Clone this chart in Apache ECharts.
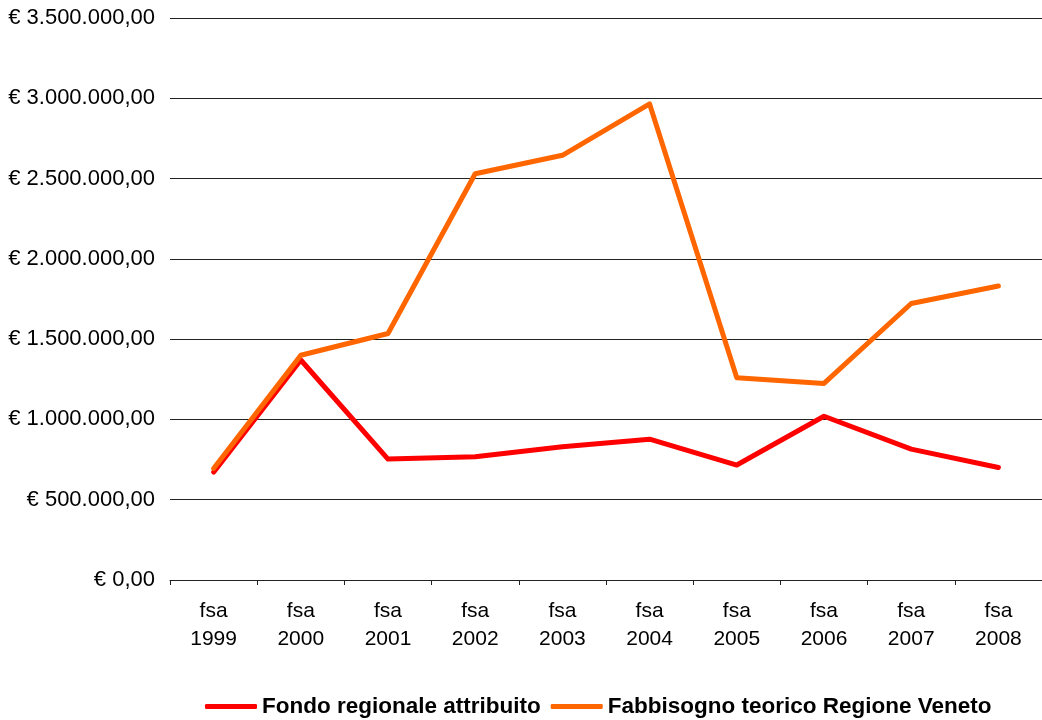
<!DOCTYPE html>
<html>
<head>
<meta charset="utf-8">
<script src="https://cdn.jsdelivr.net/npm/echarts@6/dist/echarts.min.js"></script>
<style>
  html, body { margin: 0; padding: 0; background: #fff; }
  #chart { width: 1042px; height: 720px; }
</style>
</head>
<body>
<div id="chart"></div>
<script>
const categories = ['fsa\n1999', 'fsa\n2000', 'fsa\n2001', 'fsa\n2002', 'fsa\n2003', 'fsa\n2004', 'fsa\n2005', 'fsa\n2006', 'fsa\n2007', 'fsa\n2008']
const fondoRegionale = [672000, 1370000, 753000, 767000, 830000, 877000, 716000, 1020000, 815000, 701000]
const fabbisognoTeorico = [695000, 1400000, 1535000, 2530000, 2645000, 2965000, 1259000, 1224000, 1722000, 1831000]
const seriesNames = ['Fondo regionale attribuito', 'Fabbisogno teorico Regione Veneto']

// € 1.500.000,00
const formatEuro = function (v) {
  const parts = v.toFixed(2).split('.')
  const int = parts[0].replace(/\B(?=(\d{3})+(?!\d))/g, '.')
  return '€ ' + int + ',' + parts[1]
}

const FONT = '"Liberation Sans", Arial, sans-serif'

const option = {
  animation: false,
  backgroundColor: '#fff',
  textStyle: { fontFamily: FONT },
  grid: { left: 170, top: 18, width: 872, height: 562 },
  legend: {
    left: 200,
    top: 690,
    itemWidth: 52,
    itemHeight: 5,
    itemGap: 10,
    icon: 'roundRect',
    textStyle: { fontSize: 22.5, fontWeight: 'bold', color: '#000', fontFamily: FONT },
    data: seriesNames,
  },
  xAxis: {
    type: 'category',
    data: categories,
    boundaryGap: true,
    axisLine: { lineStyle: { color: '#222', width: 1 } },
    axisTick: { show: true, length: 5, lineStyle: { color: '#222' } },
    axisLabel: { color: '#000', fontSize: 21, lineHeight: 28, margin: 17, fontFamily: FONT },
  },
  yAxis: {
    type: 'value',
    min: 0,
    max: 3500000,
    interval: 500000,
    axisLine: { show: false },
    axisTick: { show: false },
    splitLine: { lineStyle: { color: '#222', width: 1 } },
    axisLabel: { color: '#000', fontSize: 22, margin: 15, fontFamily: FONT, formatter: formatEuro },
  },
  series: [
    {
      name: seriesNames[0],
      type: 'line',
      data: fondoRegionale,
      showSymbol: false,
      color: '#ff0000',
      lineStyle: { width: 5, color: '#ff0000', cap: 'round', join: 'round' },
    },
    {
      name: seriesNames[1],
      type: 'line',
      data: fabbisognoTeorico,
      showSymbol: false,
      color: '#ff6600',
      lineStyle: { width: 5, color: '#ff6600', cap: 'round', join: 'round' },
    },
  ],
}

const c = echarts.init(document.getElementById('chart'))
c.setOption(option)
</script>
</body>
</html>
